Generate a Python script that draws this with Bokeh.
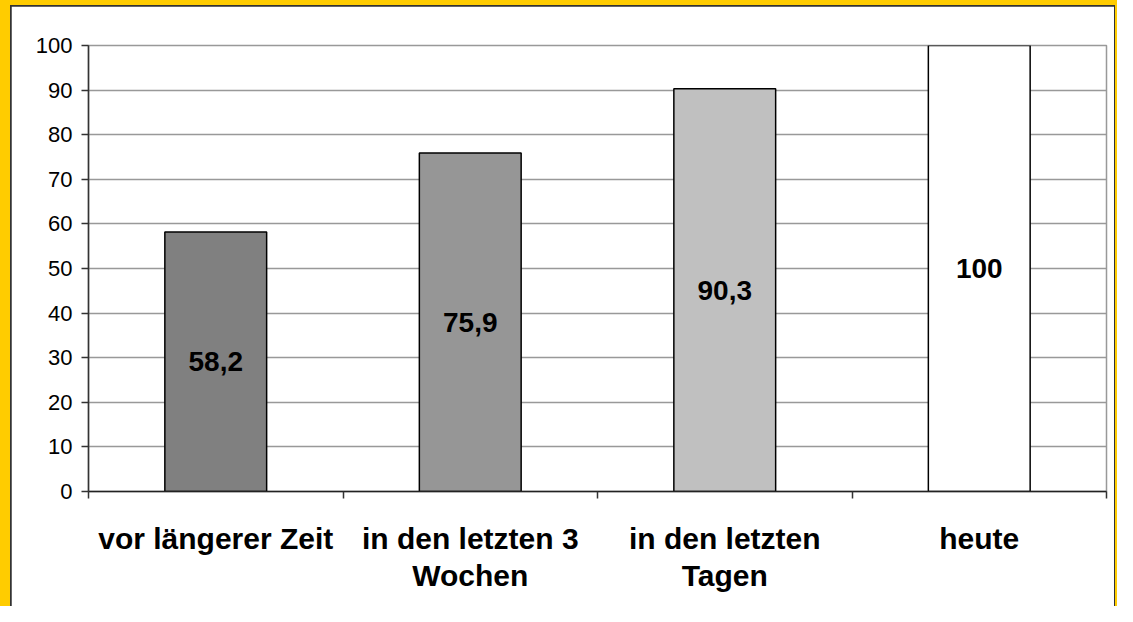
from bokeh.plotting import figure
from bokeh.models import Range1d, FixedTicker, ColumnDataSource, Column
from bokeh.core.properties import value
from bokeh.embed import file_html
from bokeh.resources import INLINE

categories = ["vor längerer Zeit", "in den letzten 3\nWochen", "in den letzten\nTagen", "heute"]
values = [58.2, 75.9, 90.3, 100.0]
value_labels = ["58,2", "75,9", "90,3", "100"]
bar_colors = ["#808080", "#969696", "#C0C0C0", "#FFFFFF"]
y_ticks = [0, 10, 20, 30, 40, 50, 60, 70, 80, 90, 100]

xs = [i + 0.5 for i in range(len(categories))]
src = ColumnDataSource(dict(
    x=xs, top=values, mid=[v / 2 for v in values],
    color=bar_colors, label=value_labels,
))

FONT = "Liberation Sans"

p = figure(width=1103, height=600, output_backend="svg", toolbar_location=None,
           x_range=Range1d(0, len(categories)), y_range=Range1d(0, 100),
           min_border_left=77, min_border_right=8, min_border_top=39,
           min_border_bottom=115)
p.background_fill_color = "white"
p.border_fill_color = "white"
p.outline_line_color = "#999999"
p.outline_line_width = 1.5

p.vbar(x="x", top="top", width=0.4, fill_color="color", line_color="black",
       line_width=1.5, source=src)
p.text(x="x", y="mid", text="label", source=src, text_align="center",
       text_baseline="middle", text_font=value(FONT), text_font_style="bold",
       text_font_size="28px", text_color="black")

# grid
p.xgrid.visible = False
p.ygrid.ticker = FixedTicker(ticks=y_ticks)
p.ygrid.grid_line_color = "#999999"
p.ygrid.grid_line_width = 1.5

# y axis
ya = p.yaxis[0]
ya.ticker = FixedTicker(ticks=y_ticks)
ya.axis_line_color = "#333333"
ya.axis_line_width = 1.5
ya.major_tick_line_color = "#333333"
ya.major_tick_line_width = 1.5
ya.major_tick_out = 7
ya.major_tick_in = 0
ya.minor_tick_line_color = None
ya.major_label_text_font = FONT
ya.major_label_text_font_size = "22px"
ya.major_label_text_color = "black"
ya.major_label_standoff = 9

# x axis
xa = p.xaxis[0]
xa.ticker = FixedTicker(ticks=xs, minor_ticks=list(range(len(categories) + 1)))
xa.major_label_overrides = {x: c for x, c in zip(xs, categories)}
xa.axis_line_color = "#222222"
xa.axis_line_width = 1.5
xa.major_tick_line_color = None
xa.major_tick_out = 0
xa.major_tick_in = 0
xa.minor_tick_line_color = "#333333"
xa.minor_tick_line_width = 1.5
xa.minor_tick_out = 7
xa.minor_tick_in = 0
xa.major_label_text_font = FONT
xa.major_label_text_font_style = "bold"
xa.major_label_text_font_size = "30px"
xa.major_label_text_color = "black"
xa.major_label_text_line_height = 1.15
xa.major_label_standoff = 23
xa.major_label_orientation = "horizontal"

# yellow frame with a thin dark line around the white chart area
inner = Column(children=[p], styles={"background-color": "#333333",
                                     "padding": "1px 1px 0px 1px"})
outer = Column(children=[inner], styles={"background-color": "#FFCC00",
                                         "padding": "5px 2px 0px 10px"})

open("out.html", "w").write(file_html(outer, INLINE))
